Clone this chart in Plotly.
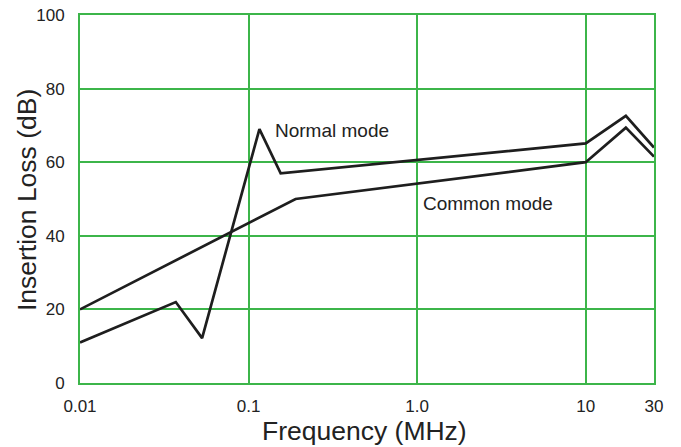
import plotly.graph_objects as go

# Data
normal_freq = [0.01, 0.037, 0.053, 0.116, 0.155, 10, 17.3, 25.4]
normal_loss = [11, 22, 12.2, 69, 57, 65.1, 72.6, 64]

common_freq = [0.01, 0.19, 10, 17.3, 25.4]
common_loss = [20, 50, 60, 69.4, 61.5]

x_tickvals = [0.01, 0.1, 1, 10, 25.4]
x_ticktext = ["0.01", "0.1", "1.0", "10", "30"]
y_tickvals = [0, 20, 40, 60, 80, 100]

grid_green = "#3cb54a"
line_col = "#1e1e1e"
text_col = "#222"
font_family = "Liberation Sans, Arial, sans-serif"

fig = go.Figure()
fig.add_trace(go.Scatter(x=normal_freq, y=normal_loss, mode="lines",
                         line=dict(color=line_col, width=2.7), name="Normal mode"))
fig.add_trace(go.Scatter(x=common_freq, y=common_loss, mode="lines",
                         line=dict(color=line_col, width=2.7), name="Common mode"))

fig.add_annotation(x=-0.858, y=68.6, xref="x", yref="y", text="Normal mode",
                   showarrow=False, xanchor="left", yanchor="middle",
                   font=dict(size=19, color=text_col, family=font_family))
fig.add_annotation(x=0.0237, y=48.8, xref="x", yref="y", text="Common mode",
                   showarrow=False, xanchor="left", yanchor="middle",
                   font=dict(size=19, color=text_col, family=font_family))

# Axis titles
fig.add_annotation(x=0.4965, y=-0.1304, xref="paper", yref="paper", text="Frequency (MHz)",
                   showarrow=False, xanchor="center", yanchor="middle",
                   font=dict(size=26.5, color=text_col, family=font_family))
fig.add_annotation(x=-0.0923, y=0.497, xref="paper", yref="paper", text="Insertion Loss (dB)",
                   showarrow=False, xanchor="center", yanchor="middle", textangle=-90,
                   font=dict(size=26.5, color=text_col, family=font_family))

fig.update_layout(
    width=681, height=447,
    margin=dict(l=72, r=35, t=7, b=72),
    paper_bgcolor="white", plot_bgcolor="white",
    showlegend=False,
    font=dict(family=font_family, color=text_col),
    xaxis=dict(type="log", range=[-2, 1.405], tickvals=x_tickvals, ticktext=x_ticktext,
               showgrid=True, gridcolor=grid_green, gridwidth=2,
               showline=True, linecolor=grid_green, linewidth=2, mirror=True,
               ticks="", ticklabelstandoff=7, zeroline=False, automargin=False,
               ticklabeloverflow="allow",
               tickfont=dict(size=17, color=text_col)),
    yaxis=dict(range=[0, 100], tickvals=y_tickvals,
               showgrid=True, gridcolor=grid_green, gridwidth=2,
               showline=True, linecolor=grid_green, linewidth=2, mirror=True,
               ticks="", ticklabelstandoff=10, zeroline=False, automargin=False,
               ticklabeloverflow="allow",
               tickfont=dict(size=17, color=text_col)),
)

fig.write_html("out.html")
